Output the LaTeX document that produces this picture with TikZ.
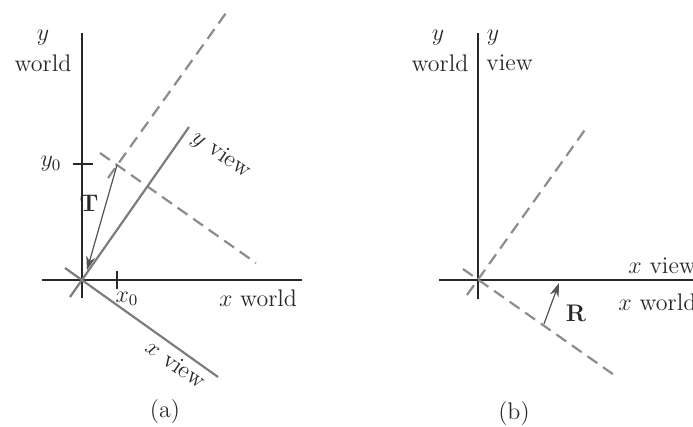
\documentclass[tikz,border=0pt]{standalone}
\usetikzlibrary{arrows.meta, positioning, calc}
\definecolor{axisgray}{RGB}{40,40,40}
\definecolor{viewgray}{RGB}{125,125,125}
\definecolor{dashgray}{RGB}{140,140,140}

\begin{document}
\begin{tikzpicture}[x=0.5pt, y=-0.5pt,
    worldaxis/.style={line width=0.8pt, color=axisgray},
    viewaxis/.style={line width=1.1pt, color=viewgray},
    movedaxis/.style={line width=1.1pt, color=dashgray, dash pattern=on 6pt off 3.5pt},
    tickmark/.style={line width=0.8pt, color=axisgray},
    motion/.style={-{Stealth[length=2.4mm, width=1.6mm]}, line width=0.6pt, color=axisgray!80},
    lbl/.style={font=\large, inner sep=1pt, text=axisgray}
]
\useasboundingbox (0,0) rectangle (693,427);
\coordinate (Oa) at (82,280);
\coordinate (P0) at (117,165);
\coordinate (yaTop) at (82,33);
\coordinate (yaBot) at (82,298);
\coordinate (xaL) at (42,280);
\coordinate (xaR) at (302,280);
\coordinate (yvA) at (70,297);
\coordinate (yvB) at (189,127);
\coordinate (xvA) at (65,268);
\coordinate (xvB) at (218,377);
\coordinate (ymA) at (108,178);
\coordinate (ymB) at (226,13);
\coordinate (xmA) at (100,153);
\coordinate (xmB) at (256,263);
\coordinate (y0L) at (73,164);
\coordinate (y0R) at (93,164);
\coordinate (x0T) at (117,271);
\coordinate (x0B) at (117,289);
\coordinate (Tend) at (87,270);
\draw[worldaxis] (yaTop) -- (yaBot);
\draw[worldaxis] (xaL) -- (xaR);
\draw[tickmark] (y0L) -- (y0R);
\draw[tickmark] (x0T) -- (x0B);
\draw[movedaxis] (ymA) -- (ymB);
\draw[movedaxis] (xmA) -- (xmB);
\draw[viewaxis] (yvA) -- (yvB);
\draw[viewaxis] (xvA) -- (xvB);
\draw[motion] (P0) -- (Tend);
\node[lbl] (yw-a) at (43,38) {$y$};
\node[lbl] (world-a) at (43,63) {world};
\node[lbl] (y0) at (51,164) {$y_0$};
\node[lbl] (x0) at (127,299) {$x_0$};
\node[lbl] (xworld-a) at (258,298) {$x$ world};
\node[lbl] (T) at (89,203) {$\mathbf{T}$};
\node[lbl, rotate=-35] (yview-a) at (221,155) {$y$ view};
\node[lbl, rotate=-35] (xview-a) at (176,364) {$x$ view};
\node[lbl] (cap-a) at (165,412) {(a)};
\coordinate (Ob) at (478,280);
\coordinate (ybTop) at (478,33);
\coordinate (ybBot) at (478,299);
\coordinate (xbL) at (439,280);
\coordinate (xbR) at (700,280);
\coordinate (ybA) at (467,295);
\coordinate (ybB) at (587,127);
\coordinate (xbA) at (463,269);
\coordinate (xbB) at (617,377);
\coordinate (Rstart) at (544,324);
\coordinate (Rend) at (559,283);
\draw[worldaxis] (ybTop) -- (ybBot);
\draw[worldaxis] (xbL) -- (xbR);
\draw[movedaxis] (ybA) -- (ybB);
\draw[movedaxis] (xbA) -- (xbB);
\draw[motion] (Rstart) -- (Rend);
\node[lbl] (yw-b) at (438,38) {$y$};
\node[lbl] (world-b) at (440,63) {world};
\node[lbl] (yv-b) at (493,38) {$y$};
\node[lbl, anchor=west] (view-b) at (484,63) {view};
\node[lbl, anchor=west] (xview-b) at (626,266) {$x$ view};
\node[lbl, anchor=west] (xworld-b) at (616,302) {$x$ world};
\node[lbl] (R) at (576,313) {$\mathbf{R}$};
\node[lbl] (cap-b) at (514,414) {(b)};
\end{tikzpicture}
\end{document}
